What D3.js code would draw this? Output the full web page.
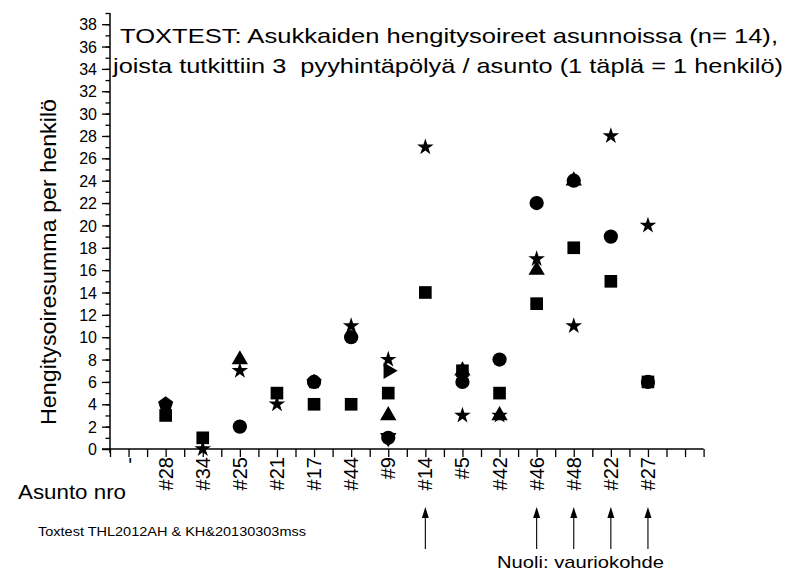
<!DOCTYPE html>
<html>
<head>
<meta charset="utf-8">
<script src="https://cdn.jsdelivr.net/npm/d3@7"></script>
<style>
  html, body { margin: 0; padding: 0; background: #fff; }
  svg { display: block; }
  text { font-family: "Liberation Sans", Arial, sans-serif; fill: #000; }
</style>
</head>
<body>
<svg id="chart" width="789" height="576"></svg>
<script>
// Apartments (x categories) and symptom sums per resident, one array per marker type
const categories = ["-", "#28", "#34", "#25", "#21", "#17", "#44", "#9", "#14", "#5", "#42", "#46", "#48", "#22", "#27"];
const squareValues   = [null, 3, 1, null, 5, 4, 4, 5, 14, 7, 5, 13, 18, 15, 6];
const circleValues   = [null, null, null, 2, null, 6, 10, 1, null, 6, 8, 22, 24, 19, 6];
const triUpValues    = [null, null, null, 8, null, null, null, 3, null, 7, 3, 16, 24, null, null];
const starValues     = [null, null, 0, 7, 4, null, 11, 8, 27, 3, 3, 17, 11, 28, 20];
const pentagonValues = [null, 4, null, null, null, 6, null, null, null, null, null, null, null, null, null];
const triDownValues  = [null, null, null, null, null, null, null, 1, null, null, null, null, null, null, null];
const triRightValues = [null, null, null, null, null, null, null, 7, null, null, null, null, null, null, null];
// Damaged apartments, marked with arrows
const damagedSites = ["#14", "#46", "#48", "#22", "#27"];
const yTickValues = d3.range(0, 39, 2);

const svg = d3.select("#chart");

const x = d3.scaleLinear().domain([-0.5, 15.5]).range([110, 703.6]);
const y = d3.scaleLinear().domain([0, 39]).range([449, 13]);

// Pentagon marker for d3.symbol
const symbolPentagon = {
  draw(ctx, size) {
    const r = Math.sqrt(size / 2.3776);
    for (let i = 0; i < 5; i++) {
      const a = -Math.PI / 2 + i * 2 * Math.PI / 5;
      const px = r * Math.cos(a), py = r * Math.sin(a);
      if (i === 0) ctx.moveTo(px, py); else ctx.lineTo(px, py);
    }
    ctx.closePath();
  }
};

// Y axis: major ticks with labels every 2, minor ticks every 1
const yAxisG = svg.append("g").attr("transform", `translate(${x(-0.5)},0)`);
yAxisG.call(d3.axisLeft(y).tickValues(d3.range(0, 40, 1)).tickSize(4.5).tickFormat(""));
yAxisG.call(g => g.selectAll(".tick line").attr("stroke-width", 1.3));
const yMajor = svg.append("g").attr("transform", `translate(${x(-0.5)},0)`)
  .call(d3.axisLeft(y).tickValues(yTickValues).tickSize(8).tickPadding(5).tickFormat(d3.format("d")));
yMajor.selectAll("text").style("font-size", "16px").attr("dy", "0.35em");
yMajor.selectAll(".tick line").attr("stroke-width", 1.3);
svg.selectAll(".domain").remove();
svg.append("line").attr("x1", x(-0.5)).attr("x2", x(-0.5)).attr("y1", y(39)).attr("y2", y(0) + 4)
  .attr("stroke", "#000").attr("stroke-width", 1.5);

// X axis: ticks at every category and halfway between
const xAxisG = svg.append("g").attr("transform", `translate(0,${y(0)})`);
xAxisG.call(d3.axisBottom(x).tickValues(d3.range(-0.5, 15.6, 0.5)).tickSize(8).tickFormat(""));
xAxisG.select(".domain").remove();
xAxisG.selectAll(".tick line").attr("stroke-width", 1.3);
svg.append("line").attr("x1", x(-0.5) - 8).attr("x2", x(15.5)).attr("y1", y(0)).attr("y2", y(0))
  .attr("stroke", "#000").attr("stroke-width", 1.5);

// Rotated apartment labels
svg.append("g").selectAll("text").data(categories).join("text")
  .attr("transform", (d, i) => `translate(${x(i) + 7},457) rotate(-90)`)
  .attr("text-anchor", "end")
  .style("font-size", "20px")
  .text(d => d);

// Markers
const series = [
  { values: squareValues,   type: d3.symbolSquare,   size: 160, rot: 0 },
  { values: circleValues,   type: d3.symbolCircle,   size: 160, rot: 0 },
  { values: pentagonValues, type: symbolPentagon,    size: 150, rot: 0 },
  { values: triUpValues,    type: d3.symbolTriangle, size: 115, rot: 0 },
  { values: triDownValues,  type: d3.symbolTriangle, size: 115, rot: 180 },
  { values: triRightValues, type: d3.symbolTriangle, size: 115, rot: 90 },
  { values: starValues,     type: d3.symbolStar,     size: 85,  rot: 0 }
];
const marks = svg.append("g");
series.forEach(s => {
  const pts = s.values.map((v, i) => ({ i, v })).filter(p => p.v !== null);
  marks.append("g").selectAll("path").data(pts).join("path")
    .attr("d", d3.symbol().type(s.type).size(s.size))
    .attr("transform", p => `translate(${x(p.i)},${y(p.v)}) rotate(${s.rot})`)
    .attr("fill", "#000");
});

// Title
svg.append("text").attr("x", 120).attr("y", 43).style("font-size", "21px")
  .attr("textLength", 658).attr("lengthAdjust", "spacingAndGlyphs")
  .text("TOXTEST: Asukkaiden hengitysoireet asunnoissa (n= 14),");
svg.append("text").attr("x", 113).attr("y", 73).style("font-size", "21px")
  .style("white-space", "pre")
  .attr("textLength", 670).attr("lengthAdjust", "spacingAndGlyphs")
  .text("joista tutkittiin 3  pyyhintäpölyä / asunto (1 täplä = 1 henkilö)");

// Y axis title
svg.append("text")
  .attr("transform", `translate(56,262) rotate(-90)`)
  .attr("text-anchor", "middle")
  .style("font-size", "22px")
  .attr("textLength", 326).attr("lengthAdjust", "spacingAndGlyphs")
  .text("Hengitysoiresumma per henkilö");

svg.append("text").attr("x", 18).attr("y", 499).style("font-size", "21px")
  .attr("textLength", 108).attr("lengthAdjust", "spacingAndGlyphs")
  .text("Asunto nro");
svg.append("text").attr("x", 38).attr("y", 536).style("font-size", "13.5px")
  .attr("textLength", 268).attr("lengthAdjust", "spacingAndGlyphs")
  .text("Toxtest THL2012AH & KH&20130303mss");
svg.append("text").attr("x", 497).attr("y", 568).style("font-size", "17px")
  .attr("textLength", 167).attr("lengthAdjust", "spacingAndGlyphs")
  .text("Nuoli: vauriokohde");

// Arrows under damaged apartments
const arrows = svg.append("g");
damagedSites.forEach(c => {
  const cx = x(categories.indexOf(c));
  arrows.append("line").attr("x1", cx).attr("x2", cx).attr("y1", 549).attr("y2", 514)
    .attr("stroke", "#000").attr("stroke-width", 1.1);
  arrows.append("path")
    .attr("d", `M${cx},507 L${cx - 3.5},518 L${cx + 3.5},518 Z`)
    .attr("fill", "#000");
});
</script>
</body>
</html>
